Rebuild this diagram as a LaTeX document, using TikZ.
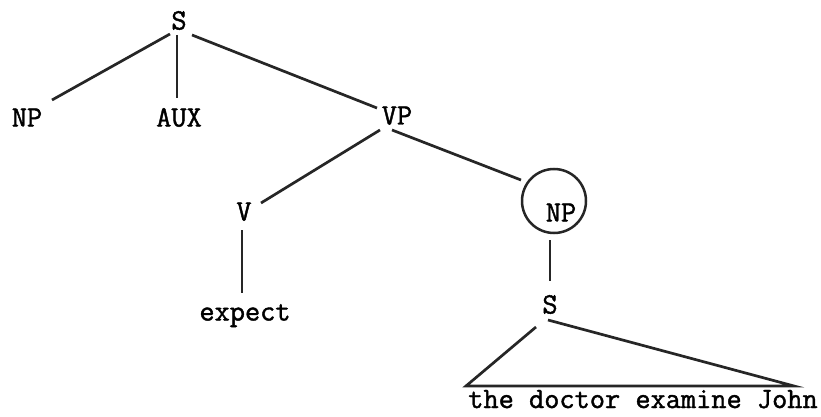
\documentclass[tikz,border=0pt]{standalone}
\usepackage{fontspec}
\newfontfamily\typewr{Latin Modern Mono}[FakeBold=1.4]
\begin{document}
\begin{tikzpicture}[x=1pt,y=-1pt,
  lab/.style={font=\typewr\fontsize{29.5}{29.5}\selectfont, inner sep=0pt, text height=17pt, text depth=0pt},
  edge/.style={line width=2.7pt, black!85},
  ring/.style={circle, draw, line width=2.5pt, black!85, minimum size=64pt, inner sep=0pt}]
\useasboundingbox (0,0) rectangle (821,417);
% categories
\node[lab] (s)    at (179,21)  {S};
\node[lab] (np1)  at (27,118)  {NP};
\node[lab] (aux)  at (179,118) {AUX};
\node[lab] (vp)   at (397,116) {VP};
\node[lab] (v)    at (244,212) {V};
\node[ring] (circ) at (554,201) {};
\node[lab] (np2)  at (561,213) {NP};
\node[lab] (exp)  at (245,312) {expect};
\node[lab] (s2)   at (550,305) {S};
\node[lab, text depth=5pt] (words) at (643,402) {the doctor examine John};
% triangle corners under the embedded S
\coordinate (tl) at (466,386);
\coordinate (tr) at (794,386);
% branches
\draw[edge] (170,34) -- (52,100);
\draw[edge] (s) ++(-2,14) -- ++(0,63);
\draw[edge] (192,35) -- (377,108);
\draw[edge] (380,130) -- (261,203);
\draw[edge] (392,130) -- (521,180);
\draw[edge] (242,230) -- (242,293);
\draw[edge] (550,240) -- (550,281);
\draw[edge] (536,327) -- (tl) -- (tr) -- (548,320);
\end{tikzpicture}
\end{document}
